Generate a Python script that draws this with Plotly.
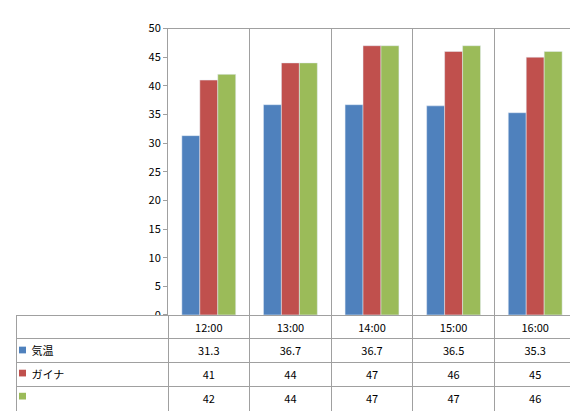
import plotly.graph_objects as go

times = ["12:00", "13:00", "14:00", "15:00", "16:00"]
series_names = ["気温", "ガイナ", "クリーンマイルドシリコン"]
kion = [31.3, 36.7, 36.7, 36.5, 35.3]
gaina = [41, 44, 47, 46, 45]
silicon = [42, 44, 47, 47, 46]
colors = ["#4F81BD", "#C0504D", "#9BBB59"]
y_ticks = list(range(0, 51, 5))

W, H = 578, 411
font = "Noto Sans CJK JP"

fig = go.Figure()
for name, vals, c in zip(series_names, [kion, gaina, silicon], colors):
    fig.add_bar(x=times, y=vals, name=name, marker_color=c, showlegend=False)

# data table under the plot
label_cells = ["   " + n for n in series_names]
columns = [label_cells] + [[str(a), str(b), str(c)] for a, b, c in zip(kion, gaina, silicon)]
fig.add_trace(go.Table(
    domain=dict(x=[8 / W, 568 / W], y=[0, 1 - 311 / H]),
    columnwidth=[152] + [81.6] * len(times),
    header=dict(values=[""] + times, height=23, align="center",
                line_color="#a0a0a0", fill_color="white",
                font=dict(family=font, size=11, color="black")),
    cells=dict(values=columns, height=24, align=["left"] + ["center"] * len(times),
               line_color="#a0a0a0", fill_color="white",
               font=dict(family=font, size=11, color="black")),
))

# legend keys inside the table's first column
for i, c in enumerate(colors):
    yc = 311 + 23 + 24 * i + 12
    fig.add_shape(type="rect", xref="paper", yref="paper",
                  x0=11 / W, x1=18 / W, y0=1 - (yc + 4) / H, y1=1 - (yc - 3) / H,
                  fillcolor=c, line_width=0)

fig.update_layout(
    width=W, height=H,
    margin=dict(l=0, r=0, t=0, b=0),
    paper_bgcolor="white", plot_bgcolor="white",
    barmode="group", bargap=0.34, bargroupgap=0,
    font=dict(family=font, size=11, color="black"),
    xaxis=dict(domain=[160 / W, 568 / W], showticklabels=False, tickson="boundaries",
               showgrid=True, gridcolor="#a0a0a0", showline=True, linecolor="#a0a0a0",
               mirror=True, ticks=""),
    yaxis=dict(domain=[1 - 310 / H, 1 - 12 / H], range=[0, 50], tickvals=y_ticks,
               showgrid=False, showline=True, linecolor="#a0a0a0", ticks="outside",
               ticklen=4, tickcolor="#a0a0a0", zeroline=False),
)

fig.write_html("out.html")
